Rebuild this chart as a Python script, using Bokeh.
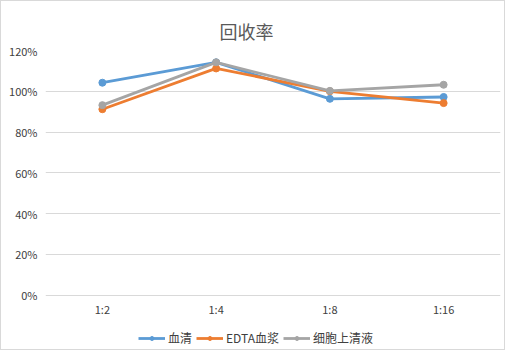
from bokeh.plotting import figure
from bokeh.models import FactorRange, Range1d, Legend, NumeralTickFormatter, FixedTicker
from bokeh.embed import file_html
from bokeh.resources import INLINE
from bokeh.core.properties import value

categories = ["1:2", "1:4", "1:8", "1:16"]
serum = [1.042, 1.142, 0.963, 0.972]
edta = [0.912, 1.112, 1.000, 0.942]
supernatant = [0.932, 1.142, 1.002, 1.032]
series_names = ["血清", "EDTA血浆", "细胞上清液"]
colors = ["#5B9BD5", "#ED7D31", "#A5A5A5"]
y_ticks = [0, 0.2, 0.4, 0.6, 0.8, 1.0, 1.2]

W, H = 505, 350
TOP, LEFT, RIGHT = 49, 44, 6
frame_h = H - 2 - TOP
px_per_unit = 202.5
y_start = -(frame_h - 1.2 * px_per_unit) / px_per_unit

p = figure(width=W, height=H, x_range=FactorRange(*categories),
           y_range=Range1d(y_start, 1.2), output_backend="svg", toolbar_location=None,
           min_border_left=LEFT, min_border_right=RIGHT, min_border_top=TOP, min_border_bottom=0)
p.title.text = "回收率"
p.title.align = "left"
p.title.text_font = "Noto Sans CJK SC"
p.title.text_font_size = "18px"
p.title.text_font_style = "normal"
p.title.text_color = "#595959"
p.title.offset = 174
p.title.standoff = 13
p.outline_line_color = None
p.styles = {"border": "1px solid #D9D9D9", "box-sizing": "border-box"}

items = []
for name, vals, c in zip(series_names, [serum, edta, supernatant], colors):
    l = p.line(categories, vals, line_color=c, line_width=2.8)
    s = p.scatter(categories, vals, size=7, fill_color=c, line_color=c)
    items.append((name, [l, s]))

# category labels under the 0% line
p.text(x=categories, y=[-14 / px_per_unit] * len(categories), text=categories,
       text_align="center", text_baseline="middle",
       text_font=value("Noto Sans CJK SC"), text_font_size="11px", text_color="#404040")

p.xaxis.visible = False
p.xgrid.grid_line_color = None
p.ygrid.grid_line_color = "#D9D9D9"
p.ygrid.grid_line_width = 1

p.yaxis.ticker = FixedTicker(ticks=y_ticks)
p.yaxis.formatter = NumeralTickFormatter(format="0%")
ax = p.yaxis[0]
ax.axis_line_color = None
ax.major_tick_line_color = None
ax.minor_tick_line_color = None
ax.major_tick_out = 0
ax.minor_tick_out = 0
ax.major_label_text_font = "Noto Sans CJK SC"
ax.major_label_text_font_size = "11px"
ax.major_label_text_color = "#404040"
ax.major_label_standoff = 8

legend = Legend(items=items, orientation="horizontal", location=(93, 5),
                label_text_font="Noto Sans CJK SC", label_text_font_size="12px",
                label_text_color="#404040", glyph_width=27, glyph_height=10,
                spacing=4, label_standoff=3, padding=2, margin=0,
                border_line_color=None, background_fill_alpha=0)
p.add_layout(legend, "center")

open("out.html", "w").write(file_html(p, INLINE))
